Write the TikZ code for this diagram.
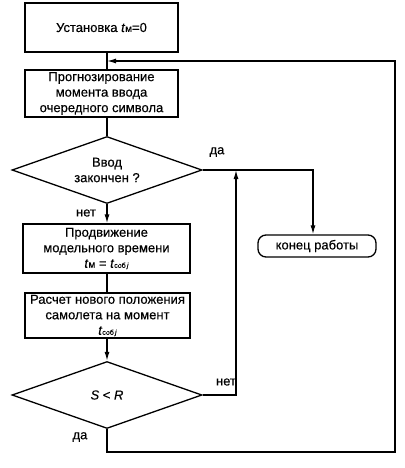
\documentclass[tikz,border=0pt]{standalone}
\usepackage{fontspec}
\setmainfont{Liberation Sans}
\newfontfamily\heavyfont{Liberation Sans}[FakeBold=0.35]
\usetikzlibrary{shapes.geometric,arrows.meta}
\tikzset{
  base/.style={draw, line width=1.3pt, inner sep=1pt, align=center,
    font=\heavyfont\fontsize{13}{15.5}\selectfont},
  procbox/.style={base, rectangle},
  decision/.style={base, diamond, minimum width=190pt, minimum height=67pt, aspect=2.84, inner sep=0pt},
  termbox/.style={base, rectangle, rounded corners=8pt},
  line/.style={line width=1.3pt},
  arr/.style={line, -{Latex[length=9pt,width=5pt]}},
  lbl/.style={font=\heavyfont\fontsize{13}{15}\selectfont, inner sep=0pt}
}
\newcommand{\tm}{\textit{t}{\fontsize{10}{10}\selectfont м}}
\newcommand{\tsob}{\textit{t}{\fontsize{7}{7}\selectfont соб\,\textit{j}}}
\begin{document}
\begin{tikzpicture}[x=1pt,y=-1pt]
\useasboundingbox (0,0) rectangle (404,468);
\node[procbox, minimum width=153pt, minimum height=49pt] (b1) at (101.5,27.5) {Установка \tm=0};
\node[procbox, minimum width=153pt, minimum height=47pt] (b2) at (101.5,93.5) {Прогнозирование\\момента ввода\\очередного символа};
\node[decision] (d1) at (107,170) {Ввод\\закончен ?};
\node[procbox, minimum width=167pt, minimum height=49pt] (b3) at (106.5,248.5) {Продвижение\\модельного времени\\\tm{} = \tsob};
\node[procbox, minimum width=165pt, minimum height=45pt, inner sep=0pt] (b4) at (107.5,315.5) {Расчет нового положения\\самолета на момент\\\tsob};
\node[decision] (d2) at (107,395) {\textit{S} < \textit{R}};
\node[termbox, minimum width=118pt, minimum height=22pt] (e) at (317,246) {конец работы};

\coordinate (c1) at (313,170);
\coordinate (c2) at (236,395);
\coordinate (c3) at (236,170);
\coordinate (c4) at (107,452);
\coordinate (c5) at (395,452);
\coordinate (c6) at (395,61);
\coordinate (c7) at (107,61);

\draw[line] (d1.north |- b1.south) -- (d1.north |- b2.north);
\draw[line] (d1.north |- b2.south) -- (d1.north);
\draw[arr] (d1.south) -- (d1.south |- b3.north);
\draw[line] (d1.south |- b3.south) -- (d1.south |- b4.north);
\draw[arr] (d1.south |- b4.south) -- (d2.north);
\draw[arr] (d1.east) -- (c1) -- (e.north -| c1);
\draw[arr] (d2.east) -- (c2) -- (c3);
\draw[arr] (d2.south) -- (c4) -- (c5) -- (c6) -- (c7);

\node[lbl] (l1) at (217,152) {да};
\node[lbl] (l2) at (86,213) {нет};
\node[lbl] (l3) at (226,382) {нет};
\node[lbl] (l4) at (80,437) {да};
\end{tikzpicture}
\end{document}
